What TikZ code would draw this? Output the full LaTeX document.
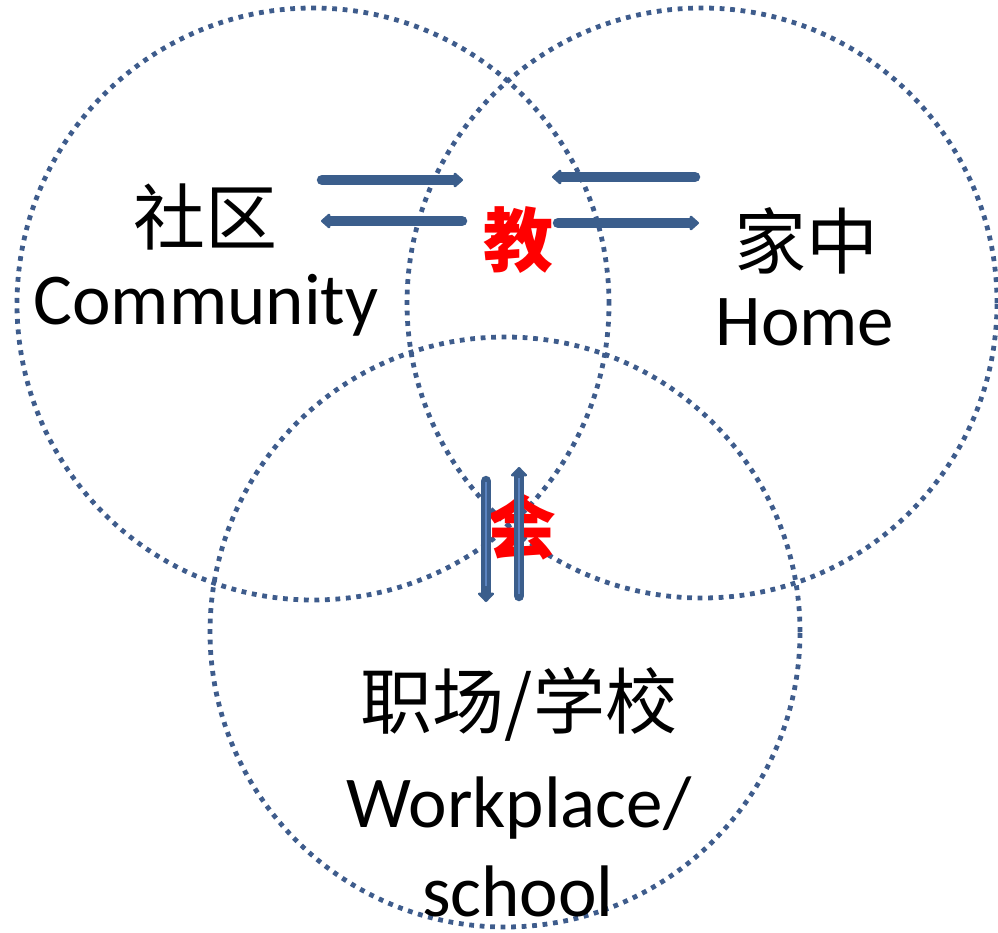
\documentclass[tikz,border=0pt]{standalone}
\usepackage{fontspec}
\setmainfont{Carlito}
\newfontfamily\cjk{Noto Sans CJK SC}
\usetikzlibrary{arrows.meta}
\definecolor{dotblue}{RGB}{62,92,140}
\definecolor{arrblue}{RGB}{59,94,140}
\definecolor{arrlight}{RGB}{92,132,192}
\tikzset{
  ring/.style={circle, draw=dotblue, line width=4.8pt, dash pattern=on 4.8pt off 5.7pt, inner sep=0pt},
  harrow/.style={draw=arrblue, line width=10.5pt, line cap=round, -{Triangle[length=10pt,width=17pt,round]}},
  varrow/.style={draw=arrblue, line width=10.5pt, line cap=round, -{Triangle[length=10pt,width=19pt,round]}},
  vinner/.style={draw=arrlight, line width=2.5pt},
  lbl/.style={text=black, inner sep=0pt, font=\fontsize{73}{80}\selectfont},
  cjklbl/.style={text=black, inner sep=0pt, font=\cjk\fontsize{72}{80}\selectfont},
  redlbl/.style={text=red, inner sep=0pt, font=\cjk\bfseries\fontsize{70}{80}\selectfont}
}
\begin{document}
\begin{tikzpicture}[x=1pt,y=-1pt]
\useasboundingbox (0,0) rectangle (998,933);
% circles
\node[ring, minimum size=592pt] (comm) at (313,304) {};
\node[ring, minimum size=590pt] (home) at (702,303) {};
\node[ring, minimum size=590pt] (work) at (505,632) {};
% labels
\node[cjklbl] (commzh) at (205,217) {社区};
\node[lbl, anchor=base] (commen) at (206,324) {Community};
\node[cjklbl] (homezh) at (806,241) {家中};
\node[lbl, anchor=base] (homeen) at (805,345) {Home};
\node[cjklbl] (workzh) at (519,704) {职场/学校};
\node[lbl, anchor=base] (worken) at (519,827) {Workplace/};
\node[lbl, anchor=base, text depth=0pt] (worken2) at (518,916) {school};
\node[redlbl] (jiao) at (518,240) {教};
\node[redlbl] (hui) at (521,527) {会};
% arrow end points
\coordinate (a1s) at (322,180); \coordinate (a1e) at (463,180);
\coordinate (a2s) at (462,221); \coordinate (a2e) at (321,221);
\coordinate (a3s) at (695,177); \coordinate (a3e) at (552,177);
\coordinate (a4s) at (558,223); \coordinate (a4e) at (699,223);
\coordinate (v1s) at (486,481); \coordinate (v1e) at (486,602);
\coordinate (v2s) at (519,596); \coordinate (v2e) at (519,467);
\coordinate (v1is) at (486,482); \coordinate (v1ie) at (486,586);
\coordinate (v2is) at (519,594); \coordinate (v2ie) at (519,478);
% arrows
\draw[harrow] (a1s) -- (a1e);
\draw[harrow] (a2s) -- (a2e);
\draw[harrow] (a3s) -- (a3e);
\draw[harrow] (a4s) -- (a4e);
\draw[varrow] (v1s) -- (v1e);
\draw[vinner] (v1is) -- (v1ie);
\draw[varrow] (v2s) -- (v2e);
\draw[vinner] (v2is) -- (v2ie);
\end{tikzpicture}
\end{document}
